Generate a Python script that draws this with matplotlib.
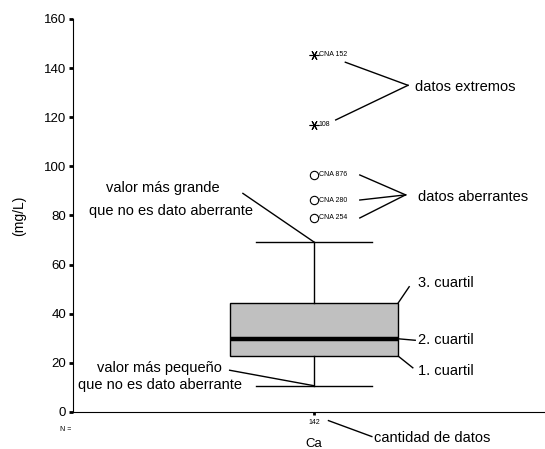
import numpy as np
import matplotlib.pyplot as plt

plt.rcParams['font.family'] = ['Liberation Sans', 'DejaVu Sans']

# box statistics for Ca (mg/L)
variable = 'Ca'
n_datos = 142
q1, mediana, q3 = 22.7, 29.8, 44.5
bigote_inf, bigote_sup = 10.7, 69.2

# outliers (circles) and extremes (asterisks)
aberrantes_nombres = ['CNA 876', 'CNA 280', 'CNA 254']
aberrantes_valores = [96.5, 86.3, 79.0]
extremos_nombres = ['CNA 152', '108']
extremos_valores = [145.4, 116.9]

W, H = 545, 449
fig = plt.figure(figsize=(W / 100, H / 100), dpi=100)
ax = fig.add_axes([73 / W, (H - 412) / H, 472 / W, 393 / H])

stats = [dict(med=mediana, q1=q1, q3=q3, whislo=bigote_inf, whishi=bigote_sup,
              fliers=[], label=variable)]
ax.bxp(stats, positions=[1], widths=0.70, showfliers=False, patch_artist=True,
       boxprops=dict(facecolor='#c0c0c0', edgecolor='black', linewidth=1),
       medianprops=dict(color='black', linewidth=3.2, solid_capstyle='butt'),
       whiskerprops=dict(color='black', linewidth=1),
       capprops=dict(color='black', linewidth=1), capwidths=0.48)

ax.plot([1] * len(aberrantes_valores), aberrantes_valores, 'o', ms=6,
        mfc='white', mec='black', mew=0.8)
ax.plot([1] * len(extremos_valores), extremos_valores, ls='none',
        marker=(6, 2, 90), ms=7, mec='black', mew=0.8)

for nom, v in zip(aberrantes_nombres, aberrantes_valores):
    ax.text(1.02, v, nom, fontsize=5, va='center', ha='left')
for nom, v in zip(extremos_nombres, extremos_valores):
    ax.text(1.02, v, nom, fontsize=5, va='center', ha='left')

ax.set_xlim(0, 472 / 241)
ax.set_ylim(0, 160)
ax.set_yticks(np.arange(0, 161, 20))
ax.tick_params(axis='y', direction='out', length=3, width=2, labelsize=9.5, pad=2)
ax.set_xticks([1])
ax.set_xticklabels([str(n_datos)], fontsize=5)
ax.tick_params(axis='x', direction='out', length=2, width=2, pad=3)
ax.spines['top'].set_visible(False)
ax.spines['right'].set_visible(False)
ax.spines['left'].set_bounds(0, 160)
ax.set_ylabel('(mg/L)', fontsize=10, labelpad=13)
ax.text(-0.03, -7, 'N =', fontsize=5, ha='center', va='center', clip_on=False)
ax.text(1, -13, variable, fontsize=9.5, ha='center', va='center', clip_on=False)

fs = 10.5
kw = dict(color='black', lw=1, clip_on=False)

# extreme values
ax.text(1.42, 132.5, 'datos extremos', fontsize=fs, va='center')
ax.plot([1.13, 1.39], [extremos_valores[0] - 3, 133], **kw)
ax.plot([1.09, 1.39], [extremos_valores[1] + 2, 133], **kw)

# outliers
ax.text(1.43, 87.5, 'datos aberrantes', fontsize=fs, va='center')
for v in aberrantes_valores:
    ax.plot([1.19, 1.38], [v, 88.4], **kw)

# whisker ends
ax.text(0.135, 91, 'valor más grande', fontsize=fs, va='center')
ax.text(0.065, 82, 'que no es dato aberrante', fontsize=fs, va='center')
ax.plot([0.705, 1], [89, bigote_sup], **kw)
ax.text(0.1, 18, 'valor más pequeño', fontsize=fs, va='center')
ax.text(0.02, 11, 'que no es dato aberrante', fontsize=fs, va='center')
ax.plot([0.65, 1], [17, bigote_inf], **kw)

# quartiles
ax.text(1.43, 52.5, '3. cuartil', fontsize=fs, va='center')
ax.plot([1.35, 1.395], [q3, 51], **kw)
ax.text(1.43, 29.5, '2. cuartil', fontsize=fs, va='center')
ax.plot([1.35, 1.42], [mediana, 29.2], **kw)
ax.text(1.43, 16.5, '1. cuartil', fontsize=fs, va='center')
ax.plot([1.35, 1.41], [q1, 18], **kw)

# sample size
ax.text(1.25, -10.5, 'cantidad de datos', fontsize=fs, va='center', clip_on=False)
ax.plot([1.06, 1.24], [-3.5, -10], **kw)

fig.savefig('out.png', dpi=100)
